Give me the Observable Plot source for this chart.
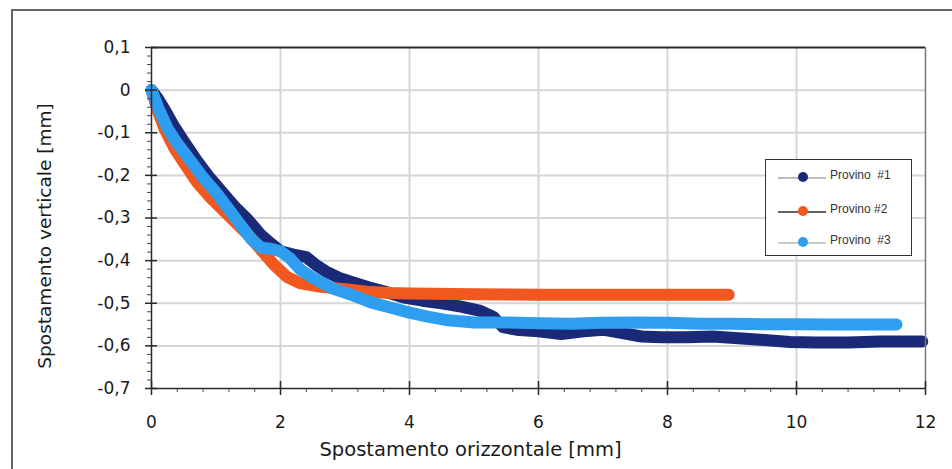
<!DOCTYPE html>
<html><head><meta charset="utf-8">
<script src="https://cdn.jsdelivr.net/npm/d3@7"></script>
<script src="https://cdn.jsdelivr.net/npm/@observablehq/plot@0.6"></script>
<style>
body{margin:0;background:#fff;}
#wrap{position:relative;width:952px;height:469px;overflow:hidden;font-family:"DejaVu Sans",sans-serif;background:#fff;}
#chart{position:absolute;left:0;top:0;}
.fl{position:absolute;background:#666;}
#legend{position:absolute;left:765px;top:159px;width:147px;height:97px;border:1.5px solid #333;background:#fff;box-sizing:border-box;}
.le{position:absolute;left:0;width:147px;height:14px;}
.le .ln{position:absolute;left:12px;width:48px;top:7px;}
.le .mk{position:absolute;left:32px;top:2px;width:10px;height:10px;border-radius:50%;}
.le .tx{position:absolute;left:64px;top:-2px;font-family:"Liberation Sans",sans-serif;font-size:12px;color:#333;white-space:pre;}
</style></head><body>
<div id="wrap">
<div id="chart"></div>
<div class="fl" style="left:11px;top:9px;width:941px;height:2px;"></div>
<div class="fl" style="left:11px;top:9px;width:2px;height:460px;"></div>
<div id="legend"></div>
</div>
<script>
// Provino #1 (dark navy)
const p1x = [0, 0.1, 0.2, 0.35, 0.5, 0.7, 0.9, 1.1, 1.3, 1.5, 1.7, 1.85, 2.0, 2.2, 2.4, 2.55, 2.7, 2.9, 3.1, 3.35, 3.6, 3.9, 4.2, 4.5, 4.8, 5.1, 5.3, 5.45, 5.7, 6.0, 6.35, 6.7, 7.0, 7.3, 7.6, 7.9, 8.3, 8.7, 9.1, 9.5, 9.9, 10.3, 10.8, 11.3, 11.95];
const p1y = [0, -0.02, -0.045, -0.085, -0.12, -0.165, -0.205, -0.24, -0.275, -0.305, -0.34, -0.36, -0.378, -0.386, -0.392, -0.41, -0.425, -0.44, -0.45, -0.462, -0.472, -0.486, -0.494, -0.5, -0.508, -0.518, -0.532, -0.556, -0.563, -0.566, -0.572, -0.566, -0.562, -0.57, -0.578, -0.58, -0.58, -0.578, -0.582, -0.586, -0.591, -0.592, -0.592, -0.59, -0.59];
// Provino #2 (orange)
const p2x = [0, 0.1, 0.2, 0.35, 0.5, 0.7, 0.9, 1.1, 1.3, 1.5, 1.7, 1.9, 2.1, 2.3, 2.6, 3.0, 3.35, 3.7, 4.0, 4.4, 5.0, 6.0, 7.0, 8.0, 8.95];
const p2y = [0, -0.05, -0.09, -0.135, -0.17, -0.215, -0.25, -0.28, -0.31, -0.34, -0.375, -0.41, -0.438, -0.453, -0.461, -0.467, -0.473, -0.476, -0.477, -0.478, -0.479, -0.48, -0.48, -0.48, -0.48];
// Provino #3 (light blue)
const p3x = [0, 0.1, 0.25, 0.4, 0.6, 0.8, 1.0, 1.2, 1.4, 1.55, 1.7, 1.85, 2.0, 2.15, 2.3, 2.5, 2.8, 3.1, 3.4, 3.7, 4.0, 4.3, 4.6, 5.0, 5.5, 6.0, 6.5, 7.0, 7.5, 8.0, 8.5, 9.0, 9.5, 10.0, 10.5, 11.0, 11.55];
const p3y = [0, -0.04, -0.09, -0.125, -0.165, -0.205, -0.24, -0.28, -0.32, -0.35, -0.37, -0.372, -0.378, -0.395, -0.42, -0.44, -0.465, -0.48, -0.498, -0.51, -0.522, -0.532, -0.54, -0.545, -0.545, -0.547, -0.548, -0.546, -0.545, -0.546, -0.548, -0.548, -0.549, -0.549, -0.55, -0.55, -0.55];

const seriesNames = ["Provino  #1", "Provino #2", "Provino  #3"];
const seriesColors = ["#1b2a78", "#f0581f", "#2e9ef0"];
const legendLine = [{c:"#bdbdbd", w:1.5}, {c:"#666666", w:2}, {c:"#cccccc", w:1.5}];

const xTitle = "Spostamento orizzontale [mm]";
const yTitle = "Spostamento verticale [mm]";
const xTicks = [0, 2, 4, 6, 8, 10, 12];
const yTicks = [0.1, 0, -0.1, -0.2, -0.3, -0.4, -0.5, -0.6, -0.7];
const xGrid = [2, 4, 6, 8, 10];
const yGrid = [0, -0.1, -0.2, -0.3, -0.4, -0.5, -0.6];
const xMinor = d3.range(0, 12.001, 0.4).filter(v => Math.abs(v/2 - Math.round(v/2)) > 1e-6);
const yMinor = d3.range(-0.7, 0.1001, 0.02).filter(v => Math.abs(v*10 - Math.round(v*10)) > 1e-6);

const toRows = (xs, ys) => xs.map((x, i) => ({x, y: ys[i]}));
const s1 = toRows(p1x, p1y), s2 = toRows(p2x, p2y), s3 = toRows(p3x, p3y);
const fmt = d => Math.abs(d) < 1e-9 ? "0" : d.toFixed(1).replace(".", ",");

const lineOpts = (c) => ({x: "x", y: "y", stroke: c, strokeWidth: 12, strokeLinecap: "round", strokeLinejoin: "round", curve: "linear"});

const chart = Plot.plot({
  width: 952, height: 469,
  marginLeft: 151, marginRight: 27, marginTop: 47, marginBottom: 81,
  x: {domain: [0, 12]},
  y: {domain: [-0.7, 0.1]},
  style: {fontFamily: "'DejaVu Sans', sans-serif", fontSize: "17px", color: "#1a1a1a", background: "transparent"},
  marks: [
    Plot.ruleY(yGrid, {stroke: "#d6d6d6", strokeWidth: 2}),
    Plot.ruleX(xGrid, {stroke: "#d6d6d6", strokeWidth: 2}),
    Plot.line(s1, lineOpts(seriesColors[0])),
    Plot.line(s2, lineOpts(seriesColors[1])),
    Plot.line(s3, lineOpts(seriesColors[2])),
    Plot.ruleY([0.1], {stroke: "#2a2a2a", strokeWidth: 2}),
    Plot.ruleX([12], {stroke: "#777", strokeWidth: 1.5}),
    Plot.ruleX([0], {stroke: "#2a2a2a", strokeWidth: 1.5}),
    Plot.ruleY([-0.7], {stroke: "#2a2a2a", strokeWidth: 1.5}),
    Plot.axisY(yTicks, {tickSize: 6, tickPadding: 15, tickFormat: fmt, label: null, stroke: "#2a2a2a", strokeWidth: 1.5, fontSize: 17}),
    Plot.axisY(yTicks, {tickSize: -6, text: null, label: null, stroke: "#2a2a2a", strokeWidth: 1.5}),
    Plot.axisY(yMinor, {tickSize: 4, text: null, label: null, stroke: "#444"}),
    Plot.axisX(xTicks, {tickSize: 7, tickPadding: 20, tickFormat: d => String(d), label: null, stroke: "#2a2a2a", strokeWidth: 1.5, fontSize: 17}),
    Plot.axisX(xTicks, {tickSize: -7, text: null, label: null, stroke: "#2a2a2a", strokeWidth: 1.5}),
    Plot.axisX(xMinor, {tickSize: 4, text: null, label: null, stroke: "#444"}),
    Plot.text([xTitle], {text: d => d, frameAnchor: "bottom", textAnchor: "middle", dx: -68, dy: 67, fontSize: 19.5, fill: "#1a1a1a"}),
    Plot.text([yTitle], {text: d => d, frameAnchor: "left", textAnchor: "middle", lineAnchor: "middle", rotate: -90, dx: -106, dy: 18, fontSize: 18.5, fill: "#1a1a1a"})
  ]
});
document.getElementById("chart").appendChild(chart);

const lg = document.getElementById("legend");
const rowsTop = [10, 44, 75];
seriesNames.forEach((n, i) => {
  const e = document.createElement("div");
  e.className = "le";
  e.style.top = rowsTop[i] + "px";
  e.innerHTML = `<div class="ln" style="height:${legendLine[i].w}px;background:${legendLine[i].c}"></div><div class="mk" style="background:${seriesColors[i]}"></div><div class="tx">${n}</div>`;
  lg.appendChild(e);
});
</script>
</body></html>
